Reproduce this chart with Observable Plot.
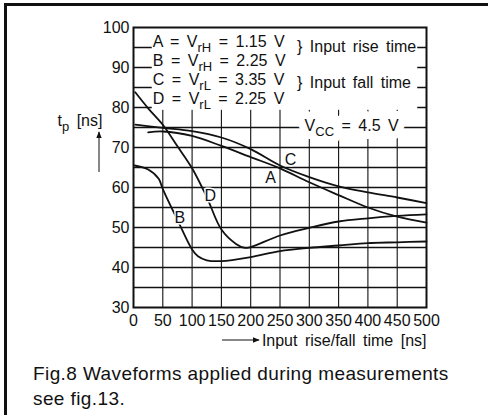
<!DOCTYPE html>
<html><head><meta charset="utf-8">
<script src="https://cdn.jsdelivr.net/npm/d3@7"></script>
<script src="https://cdn.jsdelivr.net/npm/@observablehq/plot@0.6"></script>
<style>
body{margin:0;background:#fff;font-family:"Liberation Sans",Arial,sans-serif;}
#page{position:relative;width:488px;height:415px;overflow:hidden;background:#fff;}
#bt{position:absolute;left:4px;top:3px;width:484px;height:2.5px;background:#111;z-index:2;}
#bl{position:absolute;left:4px;top:3px;width:2.5px;height:412px;background:#111;z-index:2;}
#chart{position:absolute;left:0;top:0;z-index:1;}
#cap{position:absolute;left:33px;top:361px;font-size:19px;letter-spacing:0.4px;line-height:25px;color:#111;}
</style></head><body>
<div id="page"><div id="bt"></div><div id="bl"></div><div id="chart"></div>
<div id="cap">Fig.8 Waveforms applied during measurements<br>see fig.13.</div></div>
<script>
// ---- data ----
const curveA_x = [25, 50, 100, 150, 200, 250, 300, 350, 400, 450, 500];
const curveA_y = [73.8, 74.0, 72.9, 70.4, 67.6, 64.8, 61.3, 58.1, 55.0, 52.7, 51.2];
const curveB_x = [2, 25, 43, 50, 75, 100, 110, 125, 150, 200, 250, 300, 350, 400, 450, 500];
const curveB_y = [65.5, 64.5, 62.2, 59.6, 51.9, 44.5, 42.8, 41.8, 41.6, 42.6, 44.1, 44.9, 45.5, 46.1, 46.3, 46.5];
const curveC_x = [3, 50, 100, 150, 200, 250, 300, 350, 400, 450, 500];
const curveC_y = [75.7, 74.9, 74.1, 72.5, 69.6, 65.5, 62.6, 60.3, 58.8, 57.5, 56.1];
const curveD_x = [3, 25, 50, 75, 100, 125, 150, 175, 190, 200, 250, 300, 350, 400, 450, 500];
const curveD_y = [83.8, 79.8, 75.7, 70.3, 64.8, 57.6, 49.5, 45.9, 44.9, 45.1, 48.0, 49.9, 51.5, 52.3, 52.9, 53.3];
const curveNames = ["A", "B", "C", "D"];
const xTicks = [0, 50, 100, 150, 200, 250, 300, 350, 400, 450, 500];
const yTicks = [30, 40, 50, 60, 70, 80, 90, 100];
const hGrid = [35, 40, 45, 50, 55, 60, 65, 70, 75, 80, 85, 90, 95];
const vGrid = [50, 100, 150, 200, 250, 300, 350, 400, 450];
const legendLines = ["A = V_{rH} = 1.15 V", "B = V_{rH} = 2.25 V", "C = V_{rL} = 3.35 V", "D = V_{rL} = 2.25 V"];
const braceLines = ["} Input rise time", "} Input fall time"];
const vccText = "V_{CC} = 4.5 V";
const yLabel = "t_{p} [ns]";
const xLabel = "Input rise/fall time [ns]";

// ---- layout constants ----
const labelAt = {A: [234, 62.5], B: [79, 52.3], C: [268, 67], D: [131, 58]};
const legendX = 33, legendTop = 96.3, legendStep = 4.75;
const braceX = 279, braceY = [95.2, 86.2];
const vccAt = [292, 75.5];
const boxX = [32, 485], boxY = [79.3, 99.8];

const rows = [];
const sets = {A: [curveA_x, curveA_y], B: [curveB_x, curveB_y], C: [curveC_x, curveC_y], D: [curveD_x, curveD_y]};
for (const n of curveNames) sets[n][0].forEach((x, i) => rows.push({curve: n, x, y: sets[n][1][i]}));
const legendRows = legendLines.map((t, i) => ({t, x: legendX, y: legendTop - i * legendStep}));
const braceRows = braceLines.map((t, i) => ({t, x: braceX, y: braceY[i]}));
const labels = curveNames.map(n => ({t: n, x: labelAt[n][0], y: labelAt[n][1]}));

const ink = "#111";
const F = 16;
const plot = Plot.plot({
  width: 488, height: 350,
  marginTop: 27, marginLeft: 133, marginRight: 62, marginBottom: 43,
  style: {fontFamily: '"Liberation Sans", Arial, sans-serif', fontSize: "16px", color: ink, background: "white"},
  x: {domain: [0, 500], label: null},
  y: {domain: [30, 100], label: null},
  marks: [
    Plot.ruleY(hGrid, {stroke: ink, strokeWidth: 1.4}),
    Plot.ruleX(vGrid, {y1: 30, y2: 80, stroke: ink, strokeWidth: 1.1}),
    Plot.rect([0], {x1: boxX[0], x2: boxX[1], y1: boxY[0], y2: boxY[1], fill: "white"}),
    Plot.text([vccText], {x: vccAt[0], y: vccAt[1], text: d => d, textAnchor: "start", fontSize: F, fill: "white", stroke: "white", strokeWidth: 16}),
    Plot.text([vccText], {x: vccAt[0], y: vccAt[1], text: d => d, textAnchor: "start", fontSize: F, fill: ink}),
    Plot.line(rows, {x: "x", y: "y", z: "curve", curve: "catmull-rom", stroke: ink, strokeWidth: 1.8}),
    Plot.frame({stroke: ink, strokeWidth: 2}),
    Plot.axisX({ticks: xTicks, tickSize: 0, tickPadding: 7, fontSize: F, label: null}),
    Plot.axisY({ticks: yTicks, tickSize: 0, tickPadding: 4, fontSize: F, label: null}),
    Plot.text(legendRows, {x: "x", y: "y", text: "t", textAnchor: "start", fontSize: F, fill: ink}),
    Plot.text(braceRows, {x: "x", y: "y", text: "t", textAnchor: "start", fontSize: F, fill: ink}),
    Plot.text(labels, {x: "x", y: "y", text: "t", fontSize: F, fill: ink, stroke: "white", strokeWidth: 3}),
    Plot.text([yLabel], {frameAnchor: "top-left", text: d => d, textAnchor: "start", lineAnchor: "middle", dx: -76, dy: 93, fontSize: F, fill: ink}),
    Plot.text([xLabel], {frameAnchor: "bottom-right", text: d => d, textAnchor: "end", lineAnchor: "middle", dy: 33, fontSize: F, fill: ink})
  ]
});

// subscripts
const NS = "http://www.w3.org/2000/svg";
plot.querySelectorAll("text, tspan").forEach(el => {
  if (el.children.length) return;
  const s = el.textContent;
  if (!s.includes("_{")) return;
  el.textContent = "";
  let down = false;
  for (const p of s.split(/(_\{[^}]*\})/)) {
    if (!p) continue;
    const t = document.createElementNS(NS, "tspan");
    if (p.startsWith("_{")) { t.textContent = p.slice(2, -1); t.setAttribute("font-size", "13"); t.setAttribute("dy", "5"); down = true; }
    else { t.textContent = p; if (down) { t.setAttribute("dy", "-5"); down = false; } }
    el.appendChild(t);
  }
});
plot.querySelectorAll("text").forEach(el => el.setAttribute("word-spacing", "3"));

// decorative arrows next to the axis titles
const svg = d3.select(plot);
const defs = svg.append("defs");
defs.append("marker").attr("id", "ah").attr("viewBox", "0 0 10 10").attr("refX", 9).attr("refY", 5)
  .attr("markerWidth", 7).attr("markerHeight", 7).attr("orient", "auto")
  .append("path").attr("d", "M0,1L10,5L0,9z").attr("fill", ink);
svg.append("line").attr("x1", 99).attr("y1", 172).attr("x2", 99).attr("y2", 132)
  .attr("stroke", ink).attr("stroke-width", 1).attr("marker-end", "url(#ah)");
svg.append("line").attr("x1", 222).attr("y1", 340).attr("x2", 259).attr("y2", 340)
  .attr("stroke", ink).attr("stroke-width", 1).attr("marker-end", "url(#ah)");

document.getElementById("chart").appendChild(plot);
</script>
</body></html>
